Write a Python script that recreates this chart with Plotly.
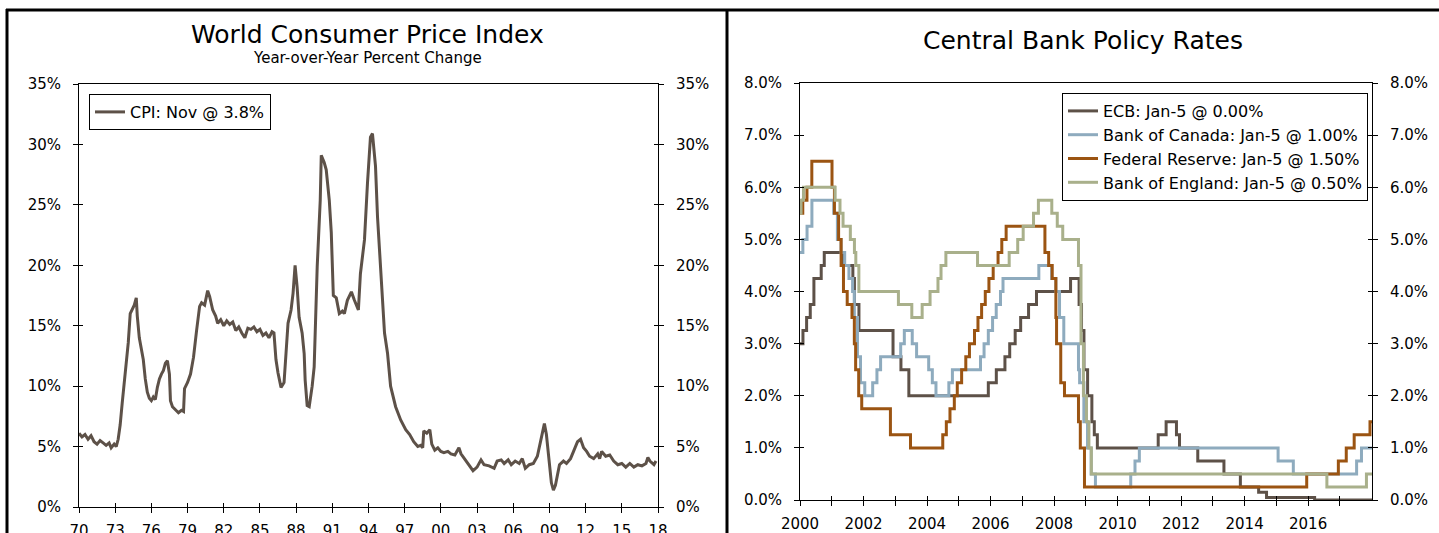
import plotly.graph_objects as go

W, H = 1439, 533
FONT = "DejaVu Sans"

# ---------------- World CPI (year-over-year % change) ----------------
cpi_dates = [
    "1970-01", "1970-04", "1970-07", "1970-10", "1971-01", "1971-04", "1971-07", "1971-10",
    "1972-01", "1972-04", "1972-07", "1972-09", "1972-12", "1973-02", "1973-04", "1973-06",
    "1973-08", "1973-10", "1973-12", "1974-02", "1974-04", "1974-06", "1974-08", "1974-10",
    "1974-11", "1975-01", "1975-03", "1975-05", "1975-07", "1975-09", "1975-11", "1976-01",
    "1976-03", "1976-05", "1976-07", "1976-09", "1976-11", "1977-01", "1977-03", "1977-05",
    "1977-07", "1977-08", "1977-10", "1978-01", "1978-04", "1978-07", "1978-09", "1978-10",
    "1979-01", "1979-04", "1979-07", "1979-10", "1980-01", "1980-03", "1980-06", "1980-09",
    "1980-11", "1981-02", "1981-05", "1981-07", "1981-10", "1982-01", "1982-04", "1982-07",
    "1982-10", "1983-01", "1983-04", "1983-07", "1983-10", "1984-01", "1984-04", "1984-07",
    "1984-10", "1985-01", "1985-04", "1985-07", "1985-10", "1986-01", "1986-03", "1986-05",
    "1986-07", "1986-10", "1987-01", "1987-03", "1987-05", "1987-08", "1987-10", "1987-12",
    "1988-02", "1988-04", "1988-07", "1988-09", "1988-10", "1988-12", "1989-02", "1989-05",
    "1989-07", "1989-10", "1990-01", "1990-02", "1990-05", "1990-07", "1990-10", "1990-12",
    "1991-02", "1991-05", "1991-08", "1991-11", "1992-01", "1992-04", "1992-08", "1992-11",
    "1993-01", "1993-03", "1993-05", "1993-09", "1993-12", "1994-03", "1994-05", "1994-08",
    "1994-10", "1995-01", "1995-05", "1995-08", "1995-11", "1996-04", "1996-09", "1997-02",
    "1997-06", "1997-10", "1998-02", "1998-05", "1998-07", "1998-08", "1998-11", "1999-02",
    "1999-04", "1999-07", "1999-10", "2000-01", "2000-04", "2000-08", "2000-11", "2001-03",
    "2001-07", "2001-09", "2002-02", "2002-06", "2002-09", "2003-01", "2003-05", "2003-08",
    "2004-01", "2004-06", "2004-09", "2005-01", "2005-04", "2005-08", "2005-11", "2006-03",
    "2006-07", "2006-10", "2007-01", "2007-05", "2007-09", "2008-01", "2008-03", "2008-06",
    "2008-08", "2008-10", "2009-01", "2009-03", "2009-05", "2009-07", "2009-11", "2010-03",
    "2010-06", "2010-10", "2011-01", "2011-05", "2011-08", "2011-11", "2012-02", "2012-05",
    "2012-09", "2013-01", "2013-03", "2013-05", "2013-09", "2014-01", "2014-05", "2014-09",
    "2015-01", "2015-05", "2015-09", "2016-01", "2016-05", "2016-09", "2017-01", "2017-03",
    "2017-05", "2017-09", "2017-11",
]
cpi_values = [
    6.1, 5.8, 6.0, 5.6, 5.9, 5.4, 5.2, 5.5,
    5.3, 5.1, 5.3, 4.9, 5.2, 5.0, 5.6, 6.8,
    8.6, 10.3, 11.6, 13.6, 16.0, 16.4, 16.7, 17.3,
    15.8, 14.0, 13.0, 12.2, 10.6, 9.5, 9.0, 8.8,
    9.1, 8.9, 9.9, 10.6, 11.0, 11.3, 11.9, 12.1,
    11.0, 8.8, 8.3, 8.0, 7.8, 8.0, 7.9, 9.8,
    10.3, 11.0, 12.4, 14.6, 16.6, 16.9, 16.7, 17.9,
    17.4, 16.3, 15.8, 15.2, 15.5, 15.0, 15.4, 15.1,
    15.3, 14.6, 14.9, 14.4, 14.0, 14.8, 14.7, 14.9,
    14.5, 14.7, 14.2, 14.4, 14.0, 14.5, 14.4, 12.2,
    11.1, 9.9, 10.3, 12.7, 15.2, 16.3, 17.7, 20.0,
    18.2, 15.7, 14.4, 12.7, 10.5, 8.4, 8.3, 10.0,
    11.6, 19.9, 25.4, 29.1, 28.5, 27.9, 25.4, 22.7,
    17.5, 17.3, 16.0, 16.2, 16.0, 17.1, 17.8, 17.1,
    16.7, 16.3, 19.3, 22.1, 26.8, 30.6, 30.9, 28.2,
    24.0, 19.9, 14.4, 12.7, 10.0, 8.3, 7.2, 6.4,
    6.0, 5.4, 5.0, 5.1, 4.9, 6.3, 6.1, 6.4,
    5.2, 4.7, 4.9, 4.6, 4.5, 4.6, 4.4, 4.3,
    4.9, 4.4, 3.8, 3.4, 3.0, 3.3, 3.9, 3.5,
    3.4, 3.2, 3.8, 3.9, 3.6, 3.9, 3.5, 3.8,
    3.6, 4.0, 3.2, 3.5, 3.6, 4.2, 5.0, 6.0,
    6.9, 6.0, 3.5, 2.0, 1.4, 1.8, 3.5, 3.8,
    3.6, 4.0, 4.6, 5.4, 5.6, 4.9, 4.6, 4.2,
    4.0, 4.4, 4.0, 4.6, 4.2, 4.3, 3.8, 3.5,
    3.6, 3.3, 3.6, 3.3, 3.5, 3.4, 3.6, 4.1,
    3.8, 3.5, 3.8,
]
cpi_ticks = ["1970-01-01", "1973-01-01", "1976-01-01", "1979-01-01", "1982-01-01",
             "1985-01-01", "1988-01-01", "1991-01-01", "1994-01-01", "1997-01-01",
             "2000-01-01", "2003-01-01", "2006-01-01", "2009-01-01", "2012-01-01",
             "2015-01-01", "2018-01-01"]
cpi_tick_labels = ["70", "73", "76", "79", "82", "85", "88", "91", "94", "97",
                   "00", "03", "06", "09", "12", "15", "18"]
cpi_y_ticks = [0, 5, 10, 15, 20, 25, 30, 35]
cpi_y_labels = ["0%", "5%", "10%", "15%", "20%", "25%", "30%", "35%"]

# ---------------- Central bank policy rates (step changes) ----------------
ecb_dates = ["2000-01-01", "2000-02-04", "2000-03-17", "2000-04-28", "2000-06-09", "2000-09-01",
             "2000-10-06", "2001-05-11", "2001-08-31", "2001-09-18", "2001-11-09", "2002-12-06",
             "2003-03-07", "2003-06-06", "2005-12-06", "2006-03-08", "2006-06-15", "2006-08-09",
             "2006-10-11", "2006-12-13", "2007-03-14", "2007-06-13", "2008-07-09", "2008-10-15",
             "2008-11-12", "2008-12-10", "2009-01-21", "2009-03-11", "2009-04-08", "2009-05-13",
             "2011-04-13", "2011-07-13", "2011-11-09", "2011-12-14", "2012-07-11", "2013-05-08",
             "2013-11-13", "2014-06-11", "2014-09-10", "2016-03-16", "2018-01-05"]
ecb_rates = [3.00, 3.25, 3.50, 3.75, 4.25, 4.50,
             4.75, 4.50, 4.25, 3.75, 3.25, 2.75,
             2.50, 2.00, 2.25, 2.50, 2.75, 3.00,
             3.25, 3.50, 3.75, 4.00, 4.25, 3.75,
             3.25, 2.50, 2.00, 1.50, 1.25, 1.00,
             1.25, 1.50, 1.25, 1.00, 0.75, 0.50,
             0.25, 0.15, 0.05, 0.00, 0.00]

boc_dates = ["2000-01-01", "2000-02-03", "2000-03-22", "2000-05-17", "2001-01-23", "2001-03-06",
             "2001-04-17", "2001-05-29", "2001-07-17", "2001-08-28", "2001-09-17", "2001-10-23",
             "2001-11-27", "2002-01-15", "2002-04-16", "2002-06-04", "2002-07-16", "2003-03-04",
             "2003-04-15", "2003-07-15", "2003-09-03", "2004-01-20", "2004-03-02", "2004-04-13",
             "2004-09-08", "2004-10-19", "2005-09-07", "2005-10-18", "2005-12-06", "2006-01-24",
             "2006-03-07", "2006-04-25", "2006-05-24", "2007-07-10", "2007-12-04", "2008-01-22",
             "2008-03-04", "2008-04-22", "2008-10-08", "2008-10-21", "2008-12-09", "2009-01-20",
             "2009-03-03", "2009-04-21", "2010-06-01", "2010-07-20", "2010-09-08", "2015-01-21",
             "2015-07-15", "2017-07-12", "2017-09-06", "2018-01-05"]
boc_rates = [4.75, 5.00, 5.25, 5.75, 5.50, 5.00,
             4.75, 4.50, 4.25, 4.00, 3.50, 2.75,
             2.25, 2.00, 2.25, 2.50, 2.75, 3.00,
             3.25, 3.00, 2.75, 2.50, 2.25, 2.00,
             2.25, 2.50, 2.75, 3.00, 3.25, 3.50,
             3.75, 4.00, 4.25, 4.50, 4.25, 4.00,
             3.50, 3.00, 2.50, 2.25, 1.50, 1.00,
             0.50, 0.25, 0.50, 0.75, 1.00, 0.75,
             0.50, 0.75, 1.00, 1.00]

fed_dates = ["2000-01-01", "2000-02-02", "2000-03-21", "2000-05-16", "2001-01-03", "2001-01-31",
             "2001-03-20", "2001-04-18", "2001-05-15", "2001-06-27", "2001-08-21", "2001-09-17",
             "2001-10-02", "2001-11-06", "2001-12-11", "2002-11-06", "2003-06-25", "2004-06-30",
             "2004-08-10", "2004-09-21", "2004-11-10", "2004-12-14", "2005-02-02", "2005-03-22",
             "2005-05-03", "2005-06-30", "2005-08-09", "2005-09-20", "2005-11-01", "2005-12-13",
             "2006-01-31", "2006-03-28", "2006-05-10", "2006-06-29", "2007-09-18", "2007-10-31",
             "2007-12-11", "2008-01-22", "2008-01-30", "2008-03-18", "2008-04-30", "2008-10-08",
             "2008-10-29", "2008-12-16", "2015-12-16", "2016-12-14", "2017-03-15", "2017-06-14",
             "2017-12-13", "2018-01-05"]
fed_rates = [5.50, 5.75, 6.00, 6.50, 6.00, 5.50,
             5.00, 4.50, 4.00, 3.75, 3.50, 3.00,
             2.50, 2.00, 1.75, 1.25, 1.00, 1.25,
             1.50, 1.75, 2.00, 2.25, 2.50, 2.75,
             3.00, 3.25, 3.50, 3.75, 4.00, 4.25,
             4.50, 4.75, 5.00, 5.25, 4.75, 4.50,
             4.25, 3.50, 3.00, 2.25, 2.00, 1.50,
             1.00, 0.25, 0.50, 0.75, 1.00, 1.25,
             1.50, 1.50]

boe_dates = ["2000-01-01", "2000-01-13", "2000-02-10", "2001-02-08", "2001-04-05", "2001-05-10",
             "2001-08-02", "2001-09-18", "2001-10-04", "2001-11-08", "2003-02-06", "2003-07-10",
             "2003-11-06", "2004-02-05", "2004-05-06", "2004-06-10", "2004-08-05", "2005-08-04",
             "2006-08-03", "2006-11-09", "2007-01-11", "2007-05-10", "2007-07-05", "2007-12-06",
             "2008-02-07", "2008-04-10", "2008-10-08", "2008-11-06", "2008-12-04", "2009-01-08",
             "2009-02-05", "2009-03-05", "2016-08-04", "2017-11-02", "2018-01-05"]
boe_rates = [5.50, 5.75, 6.00, 5.75, 5.50, 5.25,
             5.00, 4.75, 4.50, 4.00, 3.75, 3.50,
             3.75, 4.00, 4.25, 4.50, 4.75, 4.50,
             4.75, 5.00, 5.25, 5.50, 5.75, 5.50,
             5.25, 5.00, 4.50, 3.00, 2.00, 1.50,
             1.00, 0.50, 0.25, 0.50, 0.50]

bank_names = ["ECB: Jan-5 @ 0.00%", "Bank of Canada: Jan-5 @ 1.00%",
              "Federal Reserve: Jan-5 @ 1.50%", "Bank of England: Jan-5 @ 0.50%"]
bank_colors = ["#5d5148", "#8eabbe", "#9b5412", "#a9b08b"]
bank_series = [(ecb_dates, ecb_rates), (boc_dates, boc_rates),
               (fed_dates, fed_rates), (boe_dates, boe_rates)]

rate_ticks = [str(y) + "-01-01" for y in range(2000, 2018)]
rate_tick_labels = ["2000", "", "2002", "", "2004", "", "2006", "", "2008", "",
                    "2010", "", "2012", "", "2014", "", "2016", ""]
rate_y_ticks = [0, 1, 2, 3, 4, 5, 6, 7, 8]
rate_y_labels = ["0.0%", "1.0%", "2.0%", "3.0%", "4.0%", "5.0%", "6.0%", "7.0%", "8.0%"]

CPI_COLOR = "#5d5148"

# ---------------- geometry (pixels) ----------------
L1, R1, T1, B1 = 79, 658, 84, 507
L2, R2, T2, B2 = 800, 1372, 83, 500


def fx(p):
    return p / W


def fy(p):
    return 1 - p / H


tickfont = dict(family=FONT, size=15, color="black")

fig = go.Figure()
fig.add_trace(go.Scatter(x=cpi_dates, y=cpi_values, mode="lines",
                         line=dict(color=CPI_COLOR, width=3),
                         name="CPI: Nov @ 3.8%", xaxis="x", yaxis="y",
                         legend="legend", hoverinfo="skip"))
for name, (d, v), c in zip(bank_names, bank_series, bank_colors):
    fig.add_trace(go.Scatter(x=d, y=v, mode="lines",
                             line=dict(color=c, width=3, shape="hv"),
                             name=name, xaxis="x2", yaxis="y3",
                             legend="legend2", hoverinfo="skip"))

# empty traces so that every overlay axis is drawn
for xa, ya in [("x", "y2"), ("x3", "y"), ("x", "y5"), ("x", "y6"),
               ("x2", "y4"), ("x4", "y3"), ("x2", "y7"), ("x2", "y8")]:
    fig.add_trace(go.Scatter(x=[], y=[], xaxis=xa, yaxis=ya, showlegend=False,
                             hoverinfo="skip"))

common = dict(showgrid=False, zeroline=False, tickfont=tickfont, automargin=False,
              tickcolor="black", linecolor="black", linewidth=1)
inner = dict(showticklabels=False, showline=False, showgrid=False, zeroline=False,
             tickcolor="black", automargin=False, ticks="inside", ticklen=4)

cpi_xrange = ["1970-01-01", "2018-01-01"]
rate_xrange = ["2000-01-01", "2018-01-05"]

fig.update_layout(
    width=W, height=H, autosize=False,
    margin=dict(l=0, r=0, t=0, b=0, autoexpand=False),
    paper_bgcolor="white", plot_bgcolor="white",
    showlegend=True,
    # ----- left panel -----
    xaxis=dict(domain=[fx(L1), fx(R1)], anchor="y", type="date", range=cpi_xrange,
               tickmode="array", tickvals=cpi_ticks, ticktext=cpi_tick_labels,
               ticks="outside", ticklen=5, showline=True, mirror=True,
               ticklabelstandoff=5, **common),
    xaxis3=dict(overlaying="x", anchor="y", side="bottom", type="date", range=cpi_xrange,
                tickmode="array", tickvals=cpi_ticks, **inner),
    yaxis=dict(domain=[fy(B1), fy(T1)], anchor="x", range=[0, 35],
               tickmode="array", tickvals=cpi_y_ticks, ticktext=cpi_y_labels,
               ticks="outside", ticklen=5, showline=True, ticklabelstandoff=9, **common),
    yaxis2=dict(overlaying="y", anchor="x", side="right", range=[0, 35],
                tickmode="array", tickvals=cpi_y_ticks, ticktext=cpi_y_labels,
                ticks="outside", ticklen=5, showline=True, ticklabelstandoff=9, **common),
    yaxis5=dict(overlaying="y", anchor="x", side="left", range=[0, 35],
                tickmode="array", tickvals=cpi_y_ticks, **inner),
    yaxis6=dict(overlaying="y", anchor="x", side="right", range=[0, 35],
                tickmode="array", tickvals=cpi_y_ticks, **inner),
    # ----- right panel -----
    xaxis2=dict(domain=[fx(L2), fx(R2)], anchor="y3", type="date", range=rate_xrange,
                tickmode="array", tickvals=rate_ticks, ticktext=rate_tick_labels,
                ticks="outside", ticklen=5, showline=True, mirror=True,
                ticklabelstandoff=5, **common),
    xaxis4=dict(overlaying="x2", anchor="y3", side="bottom", type="date", range=rate_xrange,
                tickmode="array", tickvals=rate_ticks, **inner),
    yaxis3=dict(domain=[fy(B2), fy(T2)], anchor="x2", range=[0, 8],
                tickmode="array", tickvals=rate_y_ticks, ticktext=rate_y_labels,
                ticks="outside", ticklen=5, showline=True, ticklabelstandoff=9, **common),
    yaxis4=dict(overlaying="y3", anchor="x2", side="right", range=[0, 8],
                tickmode="array", tickvals=rate_y_ticks, ticktext=rate_y_labels,
                ticks="outside", ticklen=5, showline=True, ticklabelstandoff=9, **common),
    yaxis7=dict(overlaying="y3", anchor="x2", side="left", range=[0, 8],
                tickmode="array", tickvals=rate_y_ticks, **inner),
    yaxis8=dict(overlaying="y3", anchor="x2", side="right", range=[0, 8],
                tickmode="array", tickvals=rate_y_ticks, **inner),
    legend=dict(x=fx(89), y=fy(94), xanchor="left", yanchor="top",
                bordercolor="black", borderwidth=1, bgcolor="white",
                font=dict(family=FONT, size=16, color="black"),
                itemwidth=30, tracegroupgap=0),
    legend2=dict(x=fx(1062), y=fy(93), xanchor="left", yanchor="top",
                 bordercolor="black", borderwidth=1, bgcolor="white",
                 font=dict(family=FONT, size=16, color="black"),
                 itemwidth=30, tracegroupgap=0),
    annotations=[
        dict(text="World Consumer Price Index", x=fx(367), y=fy(34), xref="paper",
             yref="paper", showarrow=False, xanchor="center", yanchor="middle",
             font=dict(family=FONT, size=25, color="black")),
        dict(text="Year-over-Year Percent Change", x=fx(367), y=fy(58), xref="paper",
             yref="paper", showarrow=False, xanchor="center", yanchor="middle",
             font=dict(family=FONT, size=15, color="black")),
        dict(text="Central Bank Policy Rates", x=fx(1083), y=fy(40), xref="paper",
             yref="paper", showarrow=False, xanchor="center", yanchor="middle",
             font=dict(family=FONT, size=25, color="black")),
    ],
    shapes=[
        dict(type="line", xref="paper", yref="paper", x0=fx(6), x1=1, y0=fy(10), y1=fy(10),
             line=dict(color="black", width=3)),
        dict(type="line", xref="paper", yref="paper", x0=fx(7), x1=fx(7), y0=fy(9), y1=0,
             line=dict(color="black", width=3)),
        dict(type="line", xref="paper", yref="paper", x0=fx(727), x1=fx(727), y0=fy(9), y1=0,
             line=dict(color="black", width=3)),
    ],
)

# remove the browser's default 8px page margin so the figure sits at the window's corner
fig.write_html("out.html",
               config={"displayModeBar": False},
               post_script="document.body.style.margin='0px';"
                           "document.body.style.overflow='hidden';")
